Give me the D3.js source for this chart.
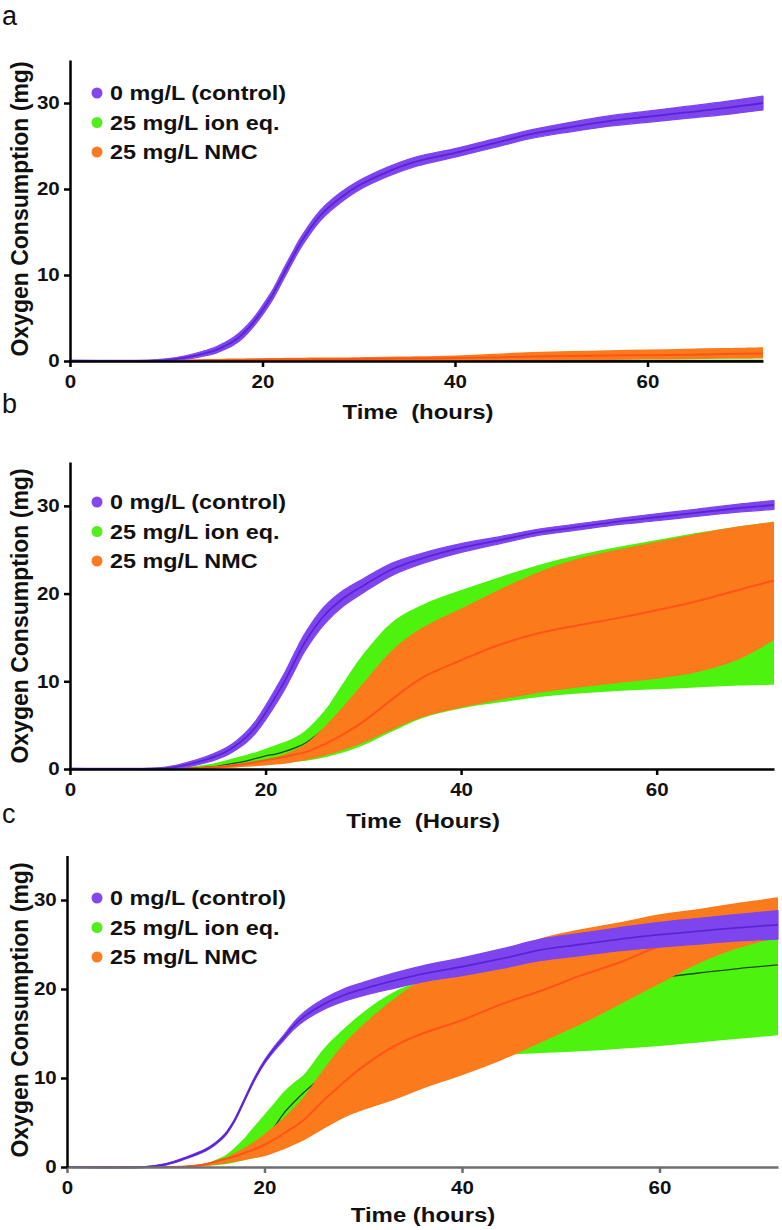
<!DOCTYPE html>
<html><head><meta charset="utf-8">
<script src="https://cdn.jsdelivr.net/npm/d3@7"></script>
<style>
body{margin:0;background:#fff;}
</style></head>
<body>
<svg id="chart" width="782" height="1230"></svg>
<script>
// ---- data (hours, mg O2) ----
const hours = [0, 8, 10, 12, 14, 15, 16, 17, 18, 19, 20, 21, 22, 23, 24, 26, 28, 30, 33, 36, 40, 44, 48, 52, 56, 60, 64, 68, 72];
const xTicks = [0, 20, 40, 60];
const yTicks = [0, 10, 20, 30];
const legendLabels = ["0 mg/L (control)", "25 mg/L ion eq.", "25 mg/L NMC"];
const panelLetters = ["a", "b", "c"];
const xTitles = ["Time  (hours)", "Time  (Hours)", "Time (hours)"];
const yTitle = "Oxygen Consumption (mg)";

// panel a
const aCtrl   = [0,0,0.1,0.4,0.9,1.2,1.7,2.3,3.2,4.4,5.9,7.6,9.7,11.8,13.8,16.9,18.9,20.4,22.0,23.2,24.2,25.3,26.4,27.2,27.9,28.4,28.9,29.4,30.0];
const aCtrlSd = [0.1,0.1,0.15,0.2,0.3,0.35,0.4,0.45,0.5,0.5,0.55,0.55,0.6,0.6,0.6,0.6,0.6,0.55,0.55,0.55,0.5,0.5,0.5,0.55,0.6,0.65,0.7,0.75,0.8];
const aIonLo   = [0,0,0,0,0,0,0,0,0,0,0,0,0,0,0,0,0,0,0,0,0,0,0,0,0,0,0,0,0];
const aIonMean = [0,0,0,0.02,0.03,0.03,0.04,0.04,0.05,0.05,0.05,0.05,0.05,0.05,0.05,0.05,0.05,0.05,0.05,0.05,0.05,0.05,0.05,0.05,0.05,0.05,0.05,0.05,0.05];
const aIonHi   = [0,0,0.05,0.1,0.12,0.13,0.14,0.14,0.15,0.15,0.16,0.16,0.17,0.17,0.18,0.18,0.18,0.18,0.18,0.18,0.18,0.18,0.18,0.18,0.18,0.18,0.18,0.18,0.18];
const aNmcLo   = [0,0,0,0,0,0,0,0,0,0,0,0,0,0,0,0,0,0,0,0,0,0.02,0.05,0.08,0.12,0.16,0.2,0.25,0.3];
const aNmcMean = [0,0,0.02,0.05,0.08,0.09,0.1,0.11,0.12,0.13,0.14,0.15,0.16,0.17,0.18,0.2,0.22,0.24,0.27,0.3,0.35,0.42,0.52,0.58,0.63,0.68,0.74,0.8,0.88];
const aNmcHi   = [0,0,0.05,0.12,0.2,0.22,0.25,0.28,0.3,0.32,0.33,0.35,0.36,0.37,0.38,0.4,0.42,0.45,0.5,0.55,0.65,0.85,1.05,1.15,1.25,1.33,1.42,1.5,1.6];

// panel b
const bCtrl   = [0,0,0.1,0.5,1.1,1.5,2.0,2.7,3.6,4.8,6.4,8.2,10.1,12.3,14.4,17.5,19.5,20.9,22.8,24.0,25.2,26.1,27.0,27.6,28.2,28.7,29.2,29.7,30.1];
const bCtrlSd = [0.1,0.1,0.15,0.25,0.35,0.4,0.45,0.5,0.6,0.7,0.8,0.9,0.95,1.0,1.0,1.0,0.9,0.8,0.7,0.6,0.5,0.4,0.35,0.35,0.35,0.4,0.4,0.45,0.5];
const bIonLo   = [0,0,0,0,0.05,0.1,0.15,0.2,0.3,0.4,0.5,0.6,0.7,0.8,0.9,1.3,1.9,2.7,4.3,5.8,6.9,7.6,8.2,8.6,8.9,9.1,9.3,9.5,9.6];
const bIonMean = [0,0,0,0.1,0.2,0.3,0.5,0.7,0.9,1.2,1.5,1.7,2.0,2.4,2.9,4.6,6.6,8.5,10.8,12.4,13.7,14.8,15.8,16.6,17.2,17.8,18.3,18.7,18.9];
const bIonHi   = [0,0,0,0.2,0.5,0.7,1.0,1.3,1.6,1.9,2.3,2.7,3.1,3.6,4.3,6.6,9.9,13.1,16.8,18.7,20.4,21.9,23.3,24.4,25.3,26.1,26.9,27.6,28.2];
const bNmcLo   = [0,0,0,0,0.05,0.07,0.1,0.18,0.25,0.32,0.4,0.5,0.6,0.8,1.0,1.5,2.2,3.0,4.5,5.9,7.0,7.9,8.7,9.3,9.8,10.3,11.0,12.3,14.7];
const bNmcMean = [0,0,0,0.05,0.15,0.2,0.3,0.45,0.6,0.8,1.0,1.2,1.4,1.65,1.9,2.8,4.0,5.4,8.0,10.4,12.4,14.2,15.5,16.4,17.2,18.1,19.1,20.3,21.5];
const bNmcHi   = [0,0,0,0.1,0.25,0.35,0.45,0.55,0.7,0.85,1.0,1.3,1.7,2.2,2.8,4.8,7.2,9.8,13.6,16.1,18.3,20.5,22.5,24.0,25.0,25.9,26.8,27.6,28.2];

// panel c
const cCtrl   = [0,0,0.3,1.0,1.9,2.6,3.6,5.3,7.6,9.9,11.8,13.3,14.6,15.9,16.9,18.3,19.3,20.0,20.9,21.7,22.5,23.4,24.4,25.0,25.6,26.1,26.5,26.9,27.2];
const cCtrlSd = [0.05,0.05,0.08,0.1,0.12,0.12,0.14,0.15,0.16,0.18,0.2,0.25,0.3,0.4,0.5,0.6,0.7,0.75,0.85,0.9,1.0,1.1,1.2,1.25,1.3,1.4,1.45,1.5,1.6];
const cIonLo   = [0,0,0,0,0.1,0.2,0.3,0.5,0.8,1.0,1.3,1.7,2.2,2.7,3.2,4.5,5.8,6.8,8.2,9.8,11.5,12.5,12.8,13.0,13.3,13.6,14.0,14.4,14.8];
const cIonMean = [0,0,0,0.05,0.3,0.6,0.9,1.2,1.8,2.4,3.1,4.5,6.1,7.3,8.4,10.3,12.3,14.0,15.6,16.8,18.0,19.0,19.8,20.4,20.9,21.3,21.8,22.3,22.7];
const cIonHi   = [0,0,0,0.1,0.4,0.8,1.3,2.2,3.3,4.6,5.9,7.2,8.5,9.5,10.4,13.3,15.5,17.4,19.6,21.0,22.2,23.2,24.4,25.2,25.9,26.5,27.1,27.6,28.1];
const cNmcLo   = [0,0,0,0,0.1,0.25,0.4,0.6,0.8,1.0,1.2,1.6,2.0,2.5,3.0,4.3,5.5,6.4,7.5,8.8,10.3,12.0,14.0,16.0,18.3,20.6,22.9,24.6,25.8];
const cNmcMean = [0,0,0,0.05,0.3,0.6,0.9,1.2,1.6,2.0,2.5,3.1,3.8,4.5,5.3,7.5,9.5,11.3,13.5,15.0,16.5,18.3,19.8,21.5,23.0,24.8,25.8,26.5,27.0];
const cNmcHi   = [0,0,0,0.1,0.4,0.7,1.0,1.6,2.2,2.9,3.7,4.6,5.6,6.7,7.9,11.0,13.8,16.0,18.8,21.0,22.5,23.9,25.7,26.7,27.5,28.4,29.0,29.7,30.3];

// ---- styles ----
const FONT = "'Liberation Sans', Arial, sans-serif";
const SX = 1.14; // horizontal stretch of the reference lettering
const COL = {
  ctrlBand: "#7e45ef", ctrlLine: "#5a24d6",
  ion: "#4ef20f", ionLine: "#1f4a12",
  nmc: "#fa7a1c", nmcLine: "#ff5418",
  dots: ["#8447ee", "#52ee1c", "#fb7a24"]
};

const panels = [
  {letter: panelLetters[0], xTitle: xTitles[0], left: 70, right: 763, bottom: 361, top: 60,
   ctrl: aCtrl, ctrlSd: aCtrlSd, ionLo: aIonLo, ionMean: aIonMean, ionHi: aIonHi,
   nmcLo: aNmcLo, nmcMean: aNmcMean, nmcHi: aNmcHi,
   letterY: 25, legendY: 93, xTitleY: 419, xTitleX: 418, yTitleY: 209, xAxisColor: "#000"},
  {letter: panelLetters[1], xTitle: xTitles[1], left: 70, right: 774, bottom: 769, top: 462,
   ctrl: bCtrl, ctrlSd: bCtrlSd, ionLo: bIonLo, ionMean: bIonMean, ionHi: bIonHi,
   nmcLo: bNmcLo, nmcMean: bNmcMean, nmcHi: bNmcHi,
   letterY: 413, legendY: 502, xTitleY: 828, xTitleX: 423, yTitleY: 616, xAxisColor: "#000"},
  {letter: panelLetters[2], xTitle: xTitles[2], left: 67, right: 778, bottom: 1167, top: 855.5,
   ctrl: cCtrl, ctrlSd: cCtrlSd, ionLo: cIonLo, ionMean: cIonMean, ionHi: cIonHi,
   nmcLo: cNmcLo, nmcMean: cNmcMean, nmcHi: cNmcHi,
   letterY: 823, legendY: 898, xTitleY: 1222, xTitleX: 423, yTitleY: 1010, xAxisColor: "#6e6e6e"}
];

const svg = d3.select("#chart");
const curve = d3.curveCatmullRom.alpha(0.5);

panels.forEach(p => {
  const g = svg.append("g");
  const x = d3.scaleLinear().domain([0, 72]).range([p.left, p.right]);
  const y = d3.scaleLinear().domain([0, 35]).range([p.bottom, p.top]);
  const idx = d3.range(hours.length);

  const band = (lo, hi) => d3.area().curve(curve)
      .x(i => x(hours[i])).y0(i => y(lo[i])).y1(i => y(hi[i]));
  const line = (arr) => d3.line().curve(curve)
      .x(i => x(hours[i])).y(i => y(arr[i]));

  // ion eq. band + mean
  g.append("path").attr("d", band(p.ionLo, p.ionHi)(idx)).attr("fill", COL.ion);
  g.append("path").attr("d", line(p.ionMean)(idx)).attr("fill", "none")
    .attr("stroke", COL.ionLine).attr("stroke-width", 1.3);
  // NMC band + mean
  g.append("path").attr("d", band(p.nmcLo, p.nmcHi)(idx)).attr("fill", COL.nmc);
  g.append("path").attr("d", line(p.nmcMean)(idx)).attr("fill", "none")
    .attr("stroke", COL.nmcLine).attr("stroke-width", 2);
  // control band + mean
  const lo = p.ctrl.map((v, i) => Math.max(0, v - p.ctrlSd[i]));
  const hi = p.ctrl.map((v, i) => v + p.ctrlSd[i]);
  g.append("path").attr("d", band(lo, hi)(idx)).attr("fill", COL.ctrlBand)
    .attr("stroke", COL.ctrlBand).attr("stroke-width", 1.2).attr("stroke-linejoin", "round");
  g.append("path").attr("d", line(p.ctrl)(idx)).attr("fill", "none")
    .attr("stroke", COL.ctrlLine).attr("stroke-width", 1.8);

  // axes
  const xa = g.append("g").attr("transform", `translate(0,${p.bottom})`)
    .call(d3.axisBottom(x).tickValues(xTicks).tickSize(6).tickPadding(8).tickSizeOuter(0));
  xa.select(".domain").attr("stroke", p.xAxisColor).attr("stroke-width", 2.5);
  xa.selectAll(".tick line").attr("stroke", p.xAxisColor).attr("stroke-width", 2.5);
  xa.selectAll("text").attr("font-size", 18).attr("font-weight", "bold")
    .attr("font-family", FONT).attr("fill", "#111").attr("transform", `scale(${SX},1)`);

  const ya = g.append("g").attr("transform", `translate(${p.left},0)`)
    .call(d3.axisLeft(y).tickValues(yTicks).tickSize(6).tickPadding(3).tickSizeOuter(0));
  ya.select(".domain").attr("stroke", "#000").attr("stroke-width", 2.5);
  ya.selectAll(".tick line").attr("stroke", "#000").attr("stroke-width", 2.5);
  ya.selectAll("text").attr("font-size", 18).attr("font-weight", "bold")
    .attr("font-family", FONT).attr("fill", "#111").attr("transform", `scale(${SX},1)`);

  // x title
  g.append("text").attr("transform", `translate(${p.xTitleX},${p.xTitleY}) scale(${SX},1)`)
    .attr("text-anchor", "middle").attr("font-family", FONT)
    .attr("font-size", 21).attr("font-weight", "bold").attr("fill", "#111")
    .style("white-space", "pre").text(p.xTitle);
  // y title
  g.append("text").attr("transform", `translate(28,${p.yTitleY}) rotate(-90)`)
    .attr("text-anchor", "middle").attr("font-family", FONT).attr("font-size", 23)
    .attr("font-weight", "bold").attr("fill", "#111").text(yTitle);

  // panel letter
  g.append("text").attr("x", 2).attr("y", p.letterY).attr("font-size", 27)
    .attr("font-family", FONT).attr("fill", "#111").text(p.letter);

  // legend
  legendLabels.forEach((lab, i) => {
    const cy = p.legendY + i * 29.5;
    g.append("circle").attr("cx", 97).attr("cy", cy).attr("r", 5.5).attr("fill", COL.dots[i]);
    g.append("text").attr("transform", `translate(110,${cy + 7.3}) scale(${SX},1)`)
      .attr("font-family", FONT).attr("font-size", 20.5)
      .attr("font-weight", "bold").attr("fill", "#111").text(lab);
  });
});
</script>
</body></html>
